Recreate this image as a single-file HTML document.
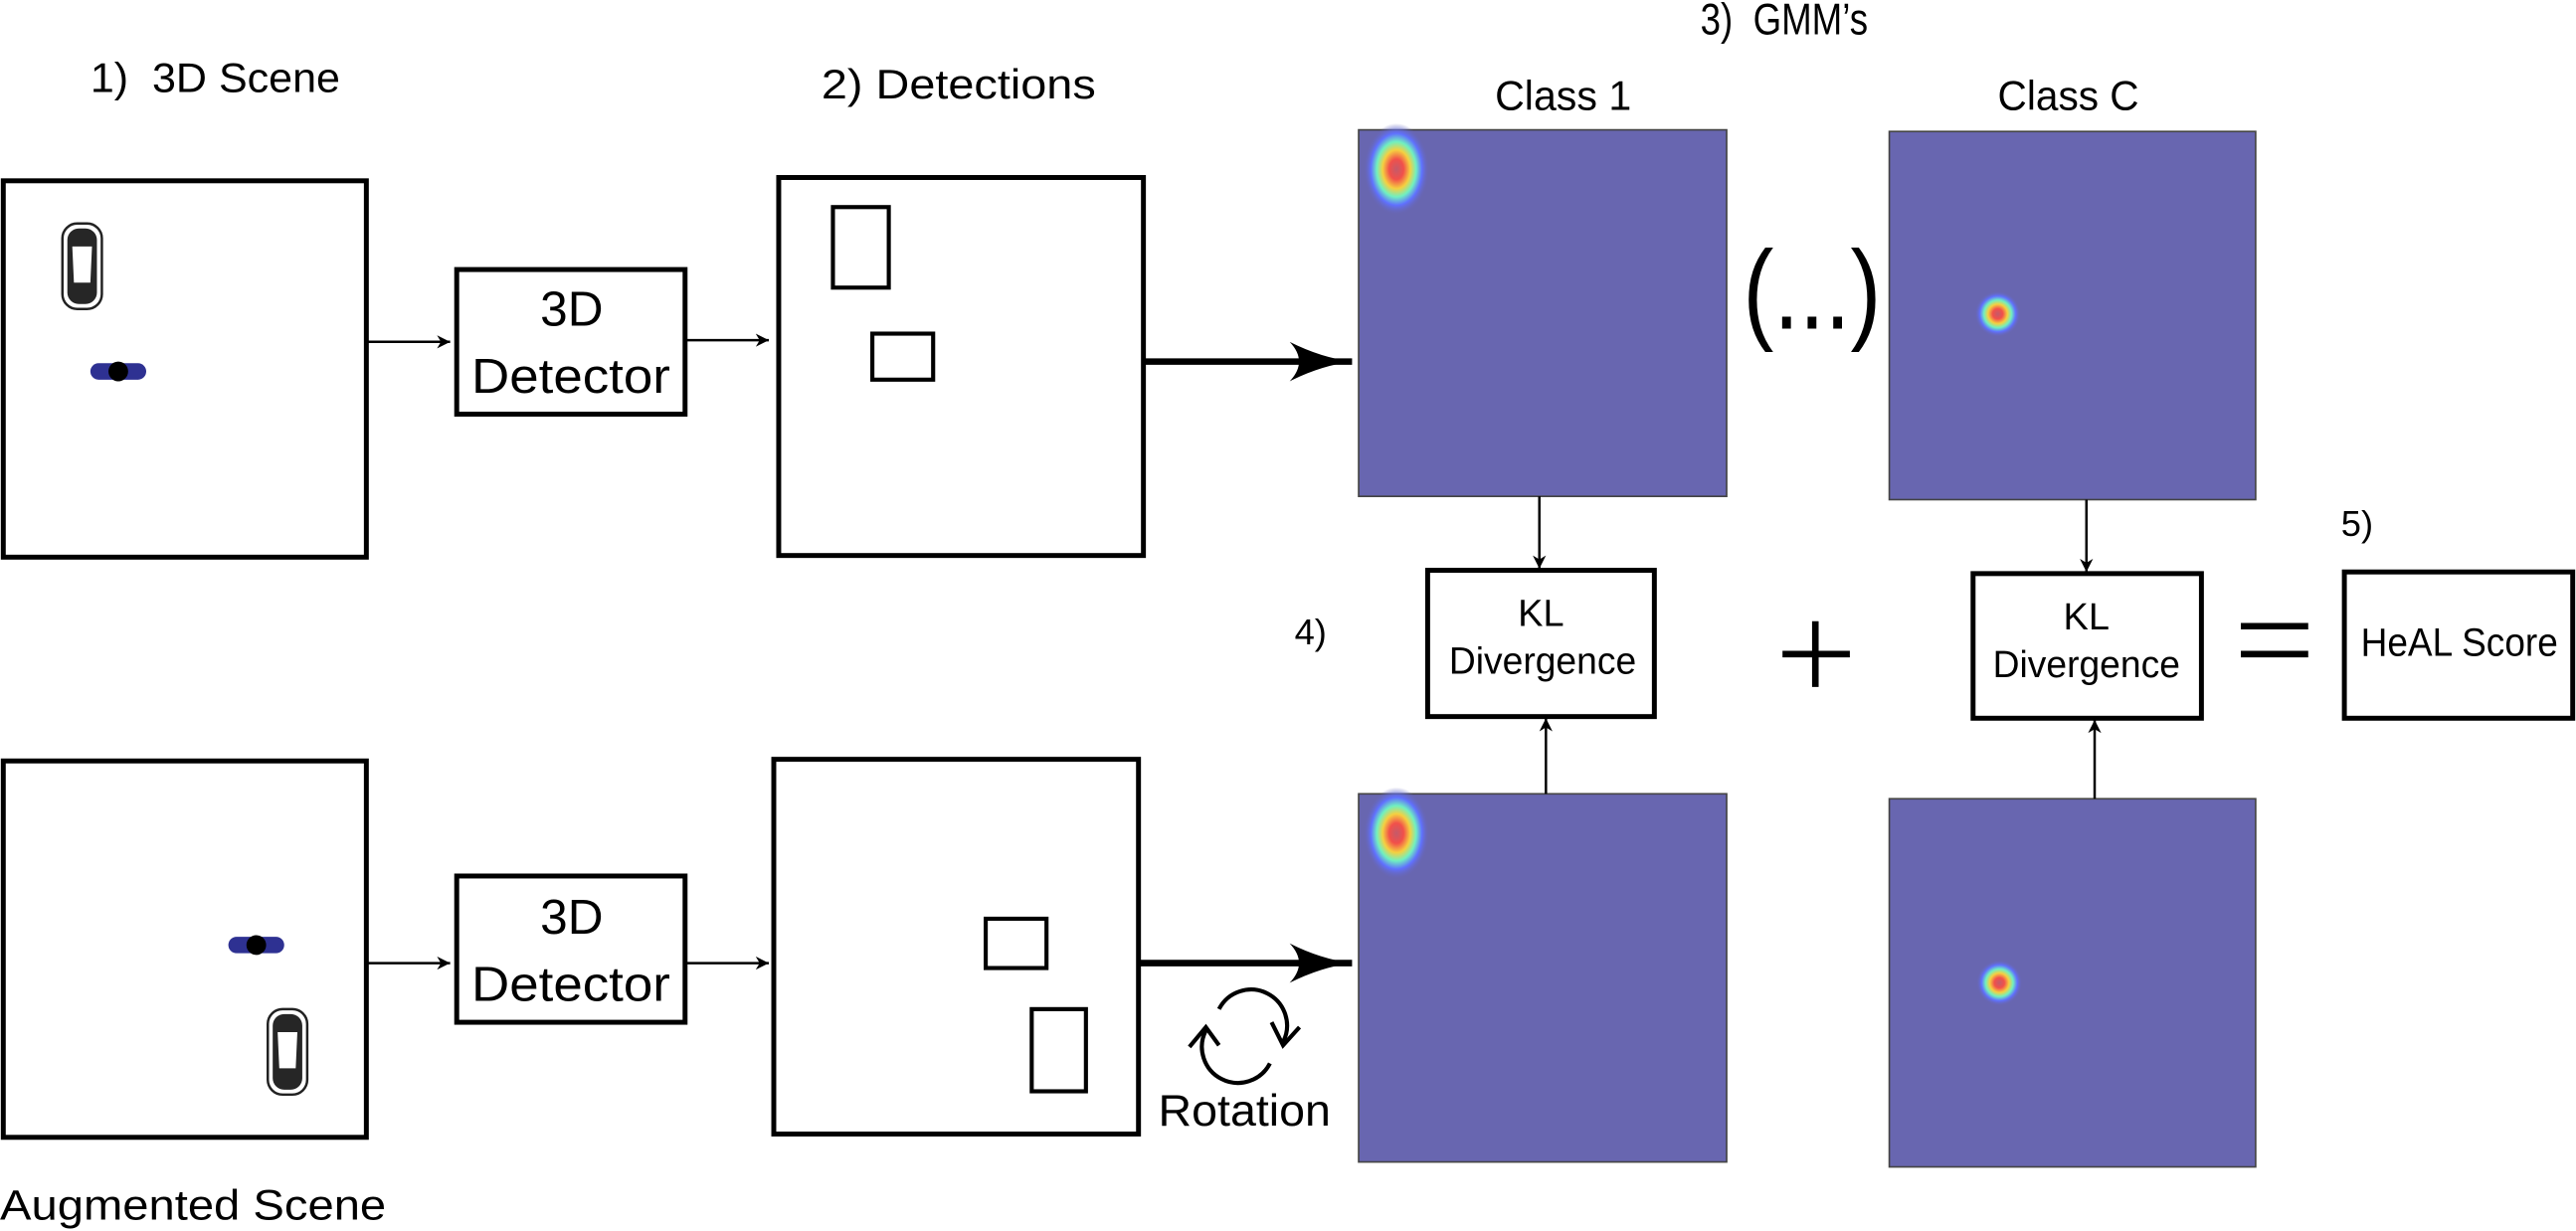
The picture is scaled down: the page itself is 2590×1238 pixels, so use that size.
<!DOCTYPE html>
<html><head><meta charset="utf-8"><style>
html,body{margin:0;padding:0;background:#fff;}
svg{display:block;}
text{font-family:"Liberation Sans",sans-serif;fill:#000;}
</style></head><body>
<svg width="2590" height="1238" viewBox="0 0 1568 749" preserveAspectRatio="none" xmlns="http://www.w3.org/2000/svg">
<defs>
<radialGradient id="blob">
<stop offset="0" stop-color="#c45a6a"/>
<stop offset="0.22" stop-color="#f2504a"/>
<stop offset="0.42" stop-color="#f5d040"/>
<stop offset="0.6" stop-color="#70f0c0"/>
<stop offset="0.78" stop-color="#6070ff"/>
<stop offset="1" stop-color="#6866b0" stop-opacity="0"/>
</radialGradient>
<marker id="ah" viewBox="0 0 10 10" refX="10" refY="5" markerWidth="8" markerHeight="8" markerUnits="userSpaceOnUse" orient="auto"><path d="M0,0 L10,5 L0,10 L3,5 Z" fill="#000"/></marker>
<marker id="ahb" viewBox="0 0 10 10" refX="10" refY="5" markerWidth="38" markerHeight="24" markerUnits="userSpaceOnUse" orient="auto" preserveAspectRatio="none"><path d="M0,0 Q5,4 10,5 Q5,6 0,10 Q3,5 0,0 Z" fill="#000"/></marker>
<g id="car">
<rect x="-12" y="-26" width="24" height="52" rx="9" fill="#fff" stroke="#222" stroke-width="1.5"/>
<rect x="-9" y="-23" width="18" height="46" rx="7" fill="#262626"/>
<path d="M-6,-12 L6,-12 L5,10 L-5,10 Z" fill="#fff"/>
</g>
<g id="ped">
<rect x="-17" y="-5" width="34" height="10" rx="5" fill="#2e3192"/>
<ellipse cx="0" cy="0" rx="6" ry="6" fill="#000"/>
</g>
</defs>

<text x="55" y="56" font-size="25" textLength="152" lengthAdjust="spacingAndGlyphs" xml:space="preserve">1)  3D Scene</text>
<text x="500" y="60" font-size="25" textLength="167" lengthAdjust="spacingAndGlyphs">2) Detections</text>
<text x="1035" y="21" font-size="27" textLength="102" lengthAdjust="spacingAndGlyphs" xml:space="preserve">3)  GMM’s</text>
<text x="910" y="67" font-size="25" textLength="83" lengthAdjust="spacingAndGlyphs">Class 1</text>
<text x="1216" y="67" font-size="25" textLength="86" lengthAdjust="spacingAndGlyphs">Class C</text>
<text x="788" y="392" font-size="22">4)</text>
<text x="1425" y="326" font-size="22">5)</text>
<text x="0" y="742" font-size="26" textLength="235" lengthAdjust="spacingAndGlyphs">Augmented Scene</text>

<rect x="2" y="110" width="221" height="229" fill="#fff" stroke="#000" stroke-width="3"/>
<use href="#car" x="50" y="162"/>
<g transform="translate(72,226) rotate(180)"><use href="#ped"/></g>
<line x1="224" y1="208" x2="274" y2="208" stroke="#000" stroke-width="1.5" marker-end="url(#ah)"/>
<rect x="278" y="164" width="139" height="88" fill="#fff" stroke="#000" stroke-width="3"/>
<text x="348" y="198" font-size="30" text-anchor="middle">3D</text>
<text x="287" y="239" font-size="30" textLength="121" lengthAdjust="spacingAndGlyphs">Detector</text>
<line x1="417" y1="207" x2="468" y2="207" stroke="#000" stroke-width="1.5" marker-end="url(#ah)"/>
<rect x="474" y="108" width="222" height="230" fill="#fff" stroke="#000" stroke-width="3"/>
<rect x="507" y="126" width="34" height="49" fill="none" stroke="#000" stroke-width="2.5"/>
<rect x="531" y="203" width="37" height="28" fill="none" stroke="#000" stroke-width="2.5"/>
<line x1="696" y1="220" x2="823" y2="220" stroke="#000" stroke-width="4" marker-end="url(#ahb)"/>

<rect x="827" y="79" width="224" height="223" fill="#6866b0" stroke="#444" stroke-width="1"/>
<ellipse cx="850" cy="103" rx="20" ry="28" fill="url(#blob)"/>
<rect x="1150" y="80" width="223" height="224" fill="#6866b0" stroke="#444" stroke-width="1"/>
<circle cx="1216" cy="191" r="14" fill="url(#blob)"/>
<text x="1061" y="200" font-size="68" textLength="84" lengthAdjust="spacingAndGlyphs">(...)</text>

<line x1="937" y1="302" x2="937" y2="346" stroke="#000" stroke-width="1.5" marker-end="url(#ah)"/>
<rect x="869" y="347" width="138" height="89" fill="#fff" stroke="#000" stroke-width="3"/>
<text x="938" y="381" font-size="23" text-anchor="middle">KL</text>
<text x="882" y="410" font-size="23" textLength="114" lengthAdjust="spacingAndGlyphs">Divergence</text>
<line x1="1085" y1="398" x2="1126" y2="398" stroke="#000" stroke-width="4"/>
<line x1="1105" y1="378" x2="1105" y2="418" stroke="#000" stroke-width="4"/>
<line x1="1270" y1="304" x2="1270" y2="348" stroke="#000" stroke-width="1.5" marker-end="url(#ah)"/>
<rect x="1201" y="349" width="139" height="88" fill="#fff" stroke="#000" stroke-width="3"/>
<text x="1270" y="383" font-size="23" text-anchor="middle">KL</text>
<text x="1213" y="412" font-size="23" textLength="114" lengthAdjust="spacingAndGlyphs">Divergence</text>
<line x1="1364" y1="381" x2="1405" y2="381" stroke="#000" stroke-width="4"/>
<line x1="1364" y1="398" x2="1405" y2="398" stroke="#000" stroke-width="4"/>
<rect x="1427" y="348" width="139" height="89" fill="#fff" stroke="#000" stroke-width="3"/>
<text x="1437" y="399" font-size="24" textLength="120" lengthAdjust="spacingAndGlyphs">HeAL Score</text>

<rect x="2" y="463" width="221" height="229" fill="#fff" stroke="#000" stroke-width="3"/>
<use href="#ped" x="156" y="575"/>
<use href="#car" x="175" y="640"/>
<line x1="224" y1="586" x2="274" y2="586" stroke="#000" stroke-width="1.5" marker-end="url(#ah)"/>
<rect x="278" y="533" width="139" height="89" fill="#fff" stroke="#000" stroke-width="3"/>
<text x="348" y="568" font-size="30" text-anchor="middle">3D</text>
<text x="287" y="609" font-size="30" textLength="121" lengthAdjust="spacingAndGlyphs">Detector</text>
<line x1="417" y1="586" x2="468" y2="586" stroke="#000" stroke-width="1.5" marker-end="url(#ah)"/>
<rect x="471" y="462" width="222" height="228" fill="#fff" stroke="#000" stroke-width="3"/>
<rect x="600" y="559" width="37" height="30" fill="none" stroke="#000" stroke-width="2.5"/>
<rect x="628" y="614" width="33" height="50" fill="none" stroke="#000" stroke-width="2.5"/>
<line x1="694" y1="586" x2="823" y2="586" stroke="#000" stroke-width="4" marker-end="url(#ahb)"/>
<path d="M742,614 A21,21 0 0 1 781,634" fill="none" stroke="#000" stroke-width="2.5"/>
<path d="M774,622 L781,636 L791,625" fill="none" stroke="#000" stroke-width="2.5"/>
<path d="M773,647 A21,21 0 0 1 734,627" fill="none" stroke="#000" stroke-width="2.5"/>
<path d="M724,637 L734,625 L742,636" fill="none" stroke="#000" stroke-width="2.5"/>
<text x="705" y="685" font-size="27" textLength="105" lengthAdjust="spacingAndGlyphs">Rotation</text>

<rect x="827" y="483" width="224" height="224" fill="#6866b0" stroke="#444" stroke-width="1"/>
<ellipse cx="850" cy="507" rx="20" ry="28" fill="url(#blob)"/>
<rect x="1150" y="486" width="223" height="224" fill="#6866b0" stroke="#444" stroke-width="1"/>
<circle cx="1217" cy="598" r="14" fill="url(#blob)"/>
<line x1="941" y1="483" x2="941" y2="437" stroke="#000" stroke-width="1.5" marker-end="url(#ah)"/>
<line x1="1275" y1="486" x2="1275" y2="438" stroke="#000" stroke-width="1.5" marker-end="url(#ah)"/>
</svg>
</body></html>
